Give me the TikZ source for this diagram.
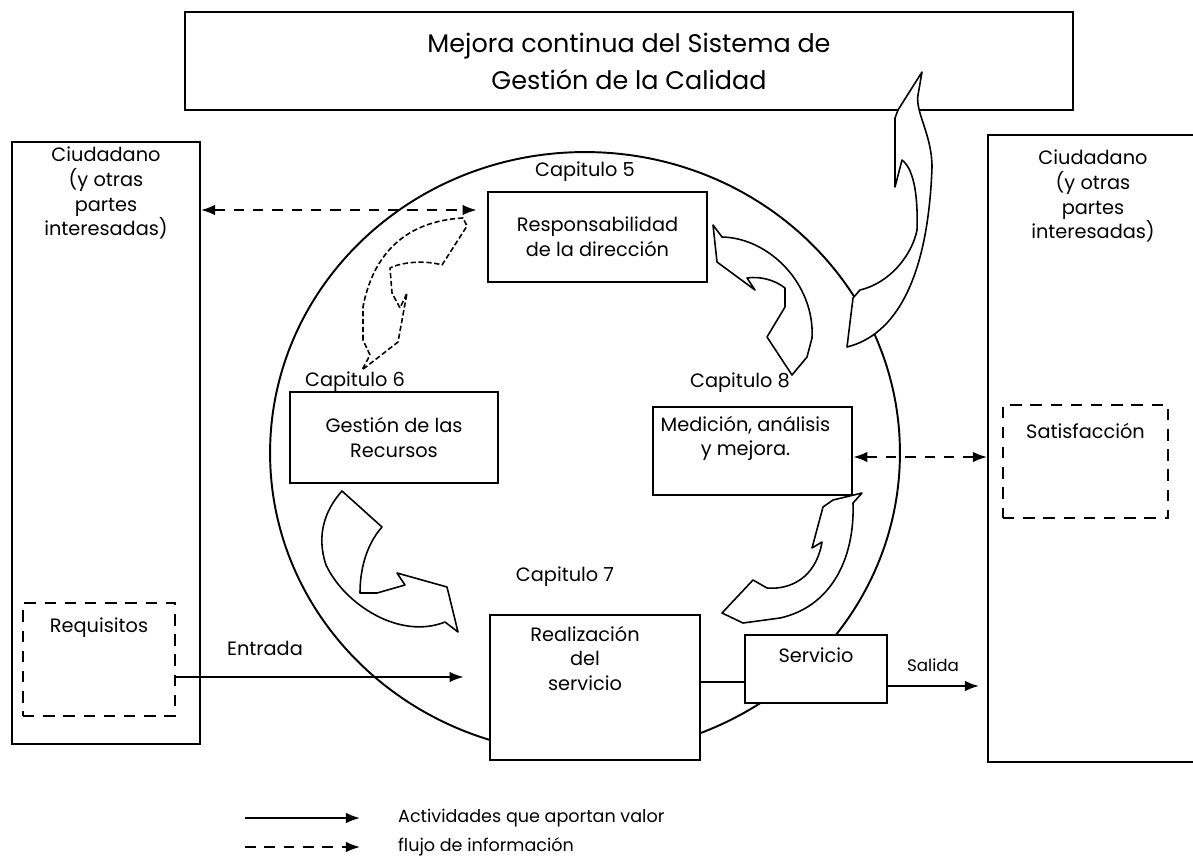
\documentclass[tikz,border=0pt]{standalone}
\usepackage{fontspec}
\setmainfont{Poppins}
\usetikzlibrary{positioning, arrows.meta, shapes.geometric}

\begin{document}
\begin{tikzpicture}[
    x=0.02cm, y=-0.02cm,
    every node/.style={font=\fontsize{11}{14}\selectfont},
    caja/.style={rectangle, draw, line width=1.6pt, fill=white, align=center},
    marco/.style={rectangle, draw, line width=1.2pt, fill=white},
    zona/.style={rectangle, draw, line width=1.2pt, dash pattern=on 6.5pt off 5pt},
    flecha/.style={-{Latex[length=8pt, width=6pt]}, line width=1pt},
    info/.style={{Latex[length=8pt, width=6pt]}-{Latex[length=8pt, width=6pt]}, line width=1pt, dash pattern=on 6pt off 5pt},
    giro/.style={draw, fill=white, line width=0.9pt, line join=round}
]
    \useasboundingbox (0,0) rectangle (1193,865);

    % Marco superior
    \node [marco, minimum width=17.76cm, minimum height=1.96cm, align=center, font=\fontsize{14.5}{21}\selectfont] (mejora) at (629,61) {Mejora continua del Sistema de\\Gestión de la Calidad};

    % Partes interesadas
    \node [marco, minimum width=3.76cm, minimum height=12.04cm] (izq) at (106,443) {};
    \node [align=center, below=0cm of izq.north] (izqtxt) {Ciudadano\\(y otras\\partes\\interesadas)};
    \node [marco, minimum width=4.28cm, minimum height=12.54cm] (der) at (1095,448.5) {};
    \node [align=center, below=0.2cm of der.north, xshift=-0.04cm] (dertxt) {Ciudadano\\(y otras\\partes\\interesadas)};

    \node [zona, minimum width=3.04cm, minimum height=2.26cm] (req) at (99,659.5) {};
    \node [below=0.2cm of req.north] (reqtxt) {Requisitos};
    \node [zona, minimum width=3.3cm, minimum height=2.26cm] (sat) at (1085.5,461.5) {};
    \node [below=0.26cm of sat.north] (sattxt) {Satisfacción};

    % Ciclo
    \node [draw, ellipse, line width=1.1pt, minimum width=12.6cm, minimum height=12.04cm] (ciclo) at (585,453) {};

    % Flechas del ciclo
    \path [giro, dash pattern=on 3pt off 1.5pt] (363,340) -- (363,307) .. controls (370,270) and (392,222) .. (463,218) -- (467,226) -- (442,265) .. controls (425,260) and (402,262) .. (390,268) -- (392,293) -- (400,308) -- (407,293) -- (398,342) -- (362,370) -- (370,355) -- cycle;
    \path [giro] (713,225) -- (722,237) .. controls (770,238) and (815,285) .. (812,338) -- (807,357) -- (792,375) -- (767,337) -- (785,307) -- (785,288) .. controls (775,280) and (760,276) .. (747,278) -- (755,290) -- (717,262) -- cycle;
    \path [giro] (342,491) -- (382,527) .. controls (366,545) and (360,570) .. (360,593) -- (377,593) -- (405,585) -- (397,573) -- (447,587) -- (458,632) -- (445,622) .. controls (400,640) and (345,605) .. (326,565) .. controls (316,535) and (325,510) .. (342,491) -- cycle;
    \path [giro] (862,493) -- (853,503) .. controls (855,560) and (830,607) .. (780,618) -- (743,623) -- (722,613) -- (753,580) -- (767,588) .. controls (790,590) and (816,578) .. (822,542) -- (812,548) -- (823,507) -- (833,500) -- cycle;
    \path [giro] (922,72) -- (898,110) -- (895,118) -- (895,187) -- (902,160) .. controls (915,170) and (918,200) .. (917,230) .. controls (912,255) and (890,283) .. (860,290) -- (853,298) -- (847,347) .. controls (895,335) and (928,280) .. (932,167) .. controls (932,135) and (915,112) .. (918,95) -- cycle;

    % Capitulos
    \node (cap5) at (585,172) {Capitulo 5};
    \node [caja, minimum width=4.38cm, minimum height=1.8cm] (resp) at (597.5,237) {Responsabilidad\\de la dirección};
    \node (cap6) at (355,382) {Capitulo 6};
    \node [caja, minimum width=4.16cm, minimum height=1.82cm] (gest) at (394,437.5) {Gestión de las\\Recursos};
    \node (cap8) at (740,383) {Capitulo 8};
    \node [caja, minimum width=3.98cm, minimum height=1.76cm] (med) at (752.5,451) {};
    \node [align=center, below=0.08cm of med.north, xshift=-0.14cm] (medtxt) {Medición, análisis\\y mejora.};
    \node (cap7) at (565,577) {Capitulo 7};
    \node [caja, minimum width=4.2cm, minimum height=2.9cm] (real) at (595,687.5) {};
    \node [align=center, below=0.12cm of real.north, xshift=-0.2cm] (realtxt) {Realización\\del\\servicio};
    \node [caja, minimum width=2.84cm, minimum height=1.36cm] (serv) at (816,669) {};
    \node [below=0.16cm of serv.north] (servtxt) {Servicio};

    % Conectores
    \coordinate (p1) at ([yshift=0.54cm]resp.west);
    \draw [info, shorten >=0.2cm] (izq.east |- p1) -- (p1);
    \coordinate (p2) at ([yshift=-0.12cm]med.east);
    \draw [info] (p2) -- (p2 -| der.west);
    \coordinate (p3) at ([yshift=-0.35cm]req.east);
    \draw [flecha, shorten >=0.5cm] (p3) -- (p3 -| real.west);
    \coordinate (p4) at ([yshift=-0.26cm]serv.west);
    \draw [line width=1pt] (p4 -| real.east) -- (p4);
    \coordinate (p5) at ([yshift=-0.34cm]serv.east);
    \draw [flecha, shorten >=0.16cm] (p5) -- (p5 -| der.west);
    \node (entrada) at (265,648) {Entrada};
    \node [font=\fontsize{9.5}{11}\selectfont] (salida) at (933,665) {Salida};

    % Leyenda
    \coordinate (l1a) at (245,818);
    \coordinate (l1b) at (360,818);
    \coordinate (l2a) at (245,847);
    \coordinate (l2b) at (360,847);
    \draw [flecha] (l1a) -- (l1b);
    \draw [flecha, dash pattern=on 6pt off 5pt] (l2a) -- (l2b);
    \node [anchor=west, font=\fontsize{10}{12}\selectfont] (ley1) at (392,818) {Actividades que aportan valor};
    \node [anchor=west, font=\fontsize{10}{12}\selectfont] (ley2) at (392,847) {flujo de información};

\end{tikzpicture}
\end{document}
